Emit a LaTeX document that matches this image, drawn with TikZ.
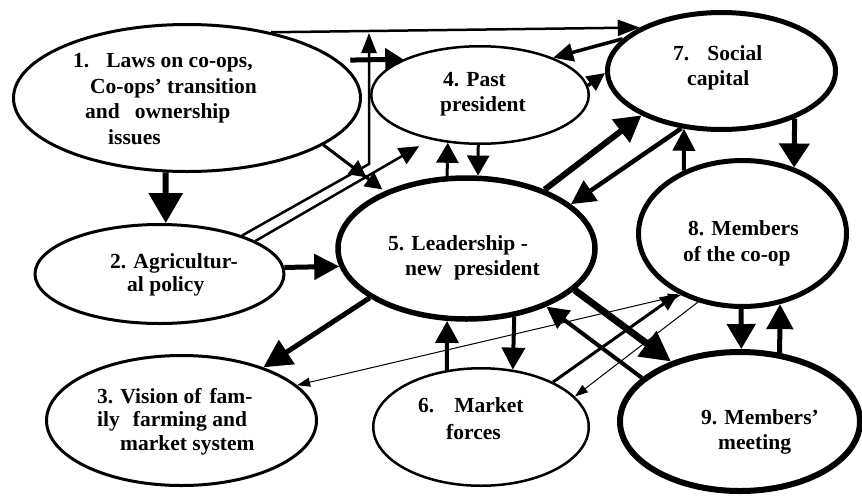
\documentclass[tikz,border=0pt]{standalone}
\usepackage{fontspec}
\setmainfont{Liberation Serif}
\usetikzlibrary{arrows.meta,shapes.geometric}
\begin{document}
\begin{tikzpicture}[x=1pt,y=-1pt,
  oval/.style={draw, ellipse, inner sep=0pt},
  lbl/.style={font=\bfseries\fontsize{21.5}{#1}\selectfont, align=left, inner sep=0pt, anchor=north west},
  arr/.style 2 args={-{Triangle[length=#1,width=#2]}},
]
\useasboundingbox (0,0) rectangle (862,496);

% ---- factors (ellipses) ----
\node[oval, line width=3pt,   minimum width=347pt,   minimum height=147pt]   (e1) at (187,98) {};
\node[oval, line width=3pt,   minimum width=249pt,   minimum height=99pt]    (e2) at (159.5,274) {};
\node[oval, line width=3pt,   minimum width=270pt,   minimum height=130pt]   (e3) at (181.5,420.5) {};
\node[oval, line width=2.5pt, minimum width=217.5pt, minimum height=97.5pt]  (e4) at (480,95) {};
\node[oval, line width=5.5pt, minimum width=257pt,   minimum height=141pt]   (e5) at (466.5,248.5) {};
\node[oval, line width=2.5pt, minimum width=215.5pt, minimum height=117.5pt] (e6) at (481,427) {};
\node[oval, line width=5pt,   minimum width=228pt,   minimum height=117pt]   (e7) at (721.5,71) {};
\node[oval, line width=5pt,   minimum width=208pt,   minimum height=146pt]   (e8) at (742.5,233.5) {};
\node[oval, line width=6pt,   minimum width=240pt,   minimum height=139pt]   (e9) at (740,421.5) {};

% ---- labels ----
\node[lbl=25.7pt] (t1) at (73,53) {1.\hspace{17pt}Laws on co-ops,\\\hspace*{17pt}Co-ops’ transition\\\hspace*{12pt}and\hspace{15pt}ownership\\\hspace*{35pt}issues};
\node[lbl=23pt] (t2) at (110,253) {2. Agricultur-\\\hspace*{17pt}al policy};
\node[lbl=23.5pt] (t3) at (97,388) {3. Vision of\hspace{8pt}fam-\\ily\hspace{13pt}farming and\\\hspace*{23pt}market system};
\node[lbl=25pt] (t4) at (440,72) {\hspace*{3pt}4. Past\\president};
\node[lbl=25pt] (t5) at (388,235) {5. Leadership -\\\hspace*{17pt}new\hspace{12pt}president};
\node[lbl=27pt] (t6) at (418,397) {6.\hspace{20pt}Market\\\hspace*{28pt}forces};
\node[lbl=25pt] (t7) at (673,45) {7.\hspace{18pt}Social\\\hspace*{14pt}capital};
\node[lbl=26pt] (t8) at (683,220) {\hspace*{5pt}8. Members\\of the co-op};
\node[lbl=25pt] (t9) at (701,409) {9. Members’\\\hspace*{17pt}meeting};

% ---- junction of the path from 2 up to the top line ----
\coordinate (jn) at (369,164);
\coordinate (jtop) at (369,33);

% ---- connectors ----
\draw[line width=2.5pt, arr={22pt}{16pt}] (e1.38) -- (e7.152.2);
\draw[line width=6pt, arr={30pt}{33pt}] (e1.-106.8) -- (e2.83.7);
\draw[line width=5pt, arr={18pt}{22pt}, shorten <=12pt] (e1.14.4) -- (e4.155.3);
\draw[line width=3pt, -{Triangle[length=17pt,width=17pt,sep=3pt] Triangle[length=17pt,width=17pt,sep=3pt]}] (e1.-19.3) -- (e5.145.9);
\draw[line width=2.5pt, arr={20pt}{15pt}] (e2.25.6) -- (jn) -- (jtop);
\draw[line width=2.5pt, arr={20pt}{18pt}, shorten >=13pt] (e2.19.2) -- (e4.-138.5);
\draw[line width=5pt, arr={25pt}{25pt}] (e2.3.7) -- (e5.-172.2);
\draw[line width=5pt, arr={28pt}{28pt}] (e5.-153.5) -- (e3.33.1);
\draw[line width=1pt, {Triangle[length=13pt,width=9pt]}-{Triangle[length=13pt,width=9pt]}] (e3.17.8) -- (e8.-135.9);
\draw[line width=3pt, arr={18pt}{15pt}] (e6.32.4) -- (e8.-137);
\draw[line width=1pt, arr={13pt}{9pt}] (e8.-123.8) -- (e6.18.8);
\draw[line width=7pt, arr={30pt}{30pt}] (e5.-21.4) -- (e9.139.6);
\draw[line width=4pt, arr={22pt}{22pt}] (e9.156.3) -- (e5.-36.5);
\draw[line width=4pt, arr={22pt}{23pt}] (e5.-55.4) -- (e6.61.7);
\draw[line width=4pt, arr={22pt}{23pt}] (e6.121.6) -- (e5.-105.8);
\draw[line width=3pt, arr={20pt}{22pt}] (e4.-92.3) -- (e5.81);
\draw[line width=3pt, arr={20pt}{22pt}] (e5.105.1) -- (e4.-124.7);
\draw[line width=3.5pt, arr={20pt}{18pt}] (e7.162.7) -- (e4.27.1);
\draw[line width=3.5pt, arr={18pt}{17pt}] (e4.5) -- (e7.-179);
\draw[line width=6pt, arr={26pt}{28pt}] (e5.37.3) -- (e7.-151.4);
\draw[line width=4.5pt, arr={24pt}{24pt}] (e7.-125.5) -- (e5.23.8);
\draw[line width=5pt, arr={24pt}{30pt}] (e7.-33.9) -- (e8.52.8);
\draw[line width=4pt, arr={22pt}{22pt}] (e8.133.6) -- (e7.-123.8);
\draw[line width=5pt, arr={25pt}{28pt}] (e8.-91.1) -- (e9.89.2);
\draw[line width=5pt, arr={25pt}{26pt}] (e9.60.3) -- (e8.-62.6);
\end{tikzpicture}
\end{document}
